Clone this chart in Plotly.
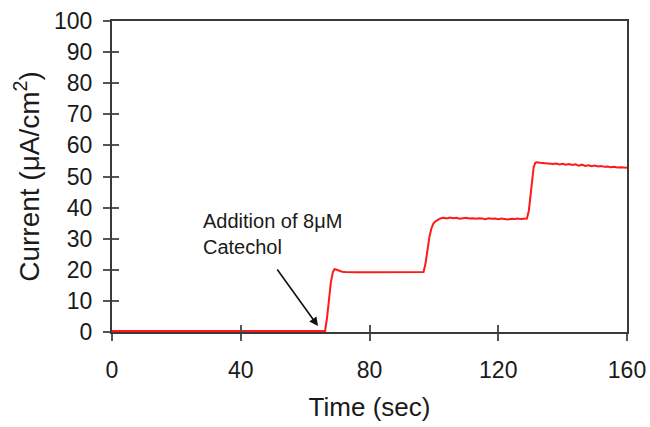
import plotly.graph_objects as go

# ---- data ----
time_s = [0, 10, 20, 30, 40, 50, 60, 66.2,
          66.8, 67.4, 68.0, 68.6, 69.1, 69.6, 70.5, 71.5, 72.5, 74, 76, 80, 85, 90, 94, 96.8,
          97.4, 98.0, 98.6, 99.2, 99.8, 100.5, 101.2, 102, 103, 104, 105, 106, 107, 108, 109,
          110, 111, 112, 113, 114, 115, 116, 117, 118, 119, 120, 121, 122, 123, 124, 125,
          126, 127, 128, 128.9,
          129.5, 130.0, 130.5, 131.0, 131.5, 132.0, 133, 134, 135, 136, 137, 138, 139, 140,
          141, 142, 143, 144, 145, 146, 147, 148, 149, 150, 151, 152, 153, 154, 155, 156,
          157, 158, 159, 160]
current = [0.3, 0.3, 0.3, 0.3, 0.3, 0.3, 0.3, 0.3,
           4.5, 10.5, 16.0, 19.2, 20.2, 20.1, 19.7, 19.4, 19.3, 19.2, 19.2, 19.2, 19.2, 19.2, 19.2, 19.3,
           22.0, 26.5, 30.5, 33.2, 34.8, 35.6, 36.1, 36.5, 36.7, 36.5, 36.8, 36.6, 36.7, 36.4,
           36.6, 36.7, 36.5, 36.6, 36.4, 36.6, 36.5, 36.3, 36.6, 36.4, 36.5, 36.3, 36.5, 36.4,
           36.2, 36.4, 36.3, 36.5, 36.3, 36.4, 36.5,
           39.0, 44.0, 49.5, 53.0, 54.4, 54.6, 54.4, 54.3, 54.2, 54.3, 54.0, 54.2, 53.9, 54.1,
           53.8, 54.0, 53.7, 53.9, 53.5, 53.8, 53.4, 53.6, 53.3, 53.5, 53.2, 53.4, 53.1, 53.2,
           53.0, 53.1, 52.9, 53.0, 52.8, 52.8]

x_ticks = [0, 40, 80, 120, 160]
y_ticks = [0, 10, 20, 30, 40, 50, 60, 70, 80, 90, 100]
x_title = "Time (sec)"
y_title = "Current (μA/cm<sup>2</sup>)"
note_text = "Addition of 8μM<br>Catechol"
note_pos = (27.6, 31.5)
arrow_head = (64.0, 1.9)
arrow_tail = (51.0, 20.6)

FONT = "Liberation Sans, Arial, sans-serif"
AX = "#3a3a3a"

fig = go.Figure()
fig.add_trace(go.Scatter(x=time_s, y=current, mode="lines",
                         line=dict(color="#ff1a1a", width=2), showlegend=False,
                         hoverinfo="skip"))
# invisible trace so that overlay axes (inner tick halves) are drawn
fig.add_trace(go.Scatter(x=[None], y=[None], xaxis="x2", yaxis="y2",
                         showlegend=False, hoverinfo="skip"))

common = dict(showgrid=False, zeroline=False, automargin=False,
              tickcolor="#555", tickwidth=1.5, ticklen=7)

fig.update_layout(
    width=650, height=427,
    margin=dict(l=112, r=23, t=21, b=95),
    paper_bgcolor="white", plot_bgcolor="white",
    font=dict(family=FONT, color="#1a1a1a", size=23),
    xaxis=dict(range=[0, 160], tickvals=x_ticks, ticks="outside", showline=True,
               mirror=True, ticklabelstandoff=9, linecolor=AX, linewidth=2,
               title=dict(text=x_title, font=dict(size=26), standoff=16),
               **common),
    yaxis=dict(range=[0, 100], tickvals=y_ticks, ticks="outside", showline=True,
               mirror=True, ticklabelstandoff=6, linecolor=AX, linewidth=2,
               title=dict(text=y_title, font=dict(size=28), standoff=6),
               **common),
    xaxis2=dict(range=[0, 160], tickvals=x_ticks, ticks="inside", overlaying="x",
                showticklabels=False, showline=False, anchor="y2", **common),
    yaxis2=dict(range=[0, 100], tickvals=y_ticks, ticks="inside", overlaying="y",
                showticklabels=False, showline=False, anchor="x2", **common),
    annotations=[
        dict(x=note_pos[0], y=note_pos[1], xref="x", yref="y", text=note_text,
             showarrow=False, xanchor="left", yanchor="middle", align="left",
             font=dict(size=20, family=FONT, color="#1a1a1a")),
        dict(x=arrow_head[0], y=arrow_head[1], xref="x", yref="y",
             ax=arrow_tail[0], ay=arrow_tail[1], axref="x", ayref="y",
             text="", showarrow=True, arrowhead=2, arrowsize=1.1, arrowwidth=1.6,
             arrowcolor="#111"),
    ],
)

fig.write_html("out.html")
